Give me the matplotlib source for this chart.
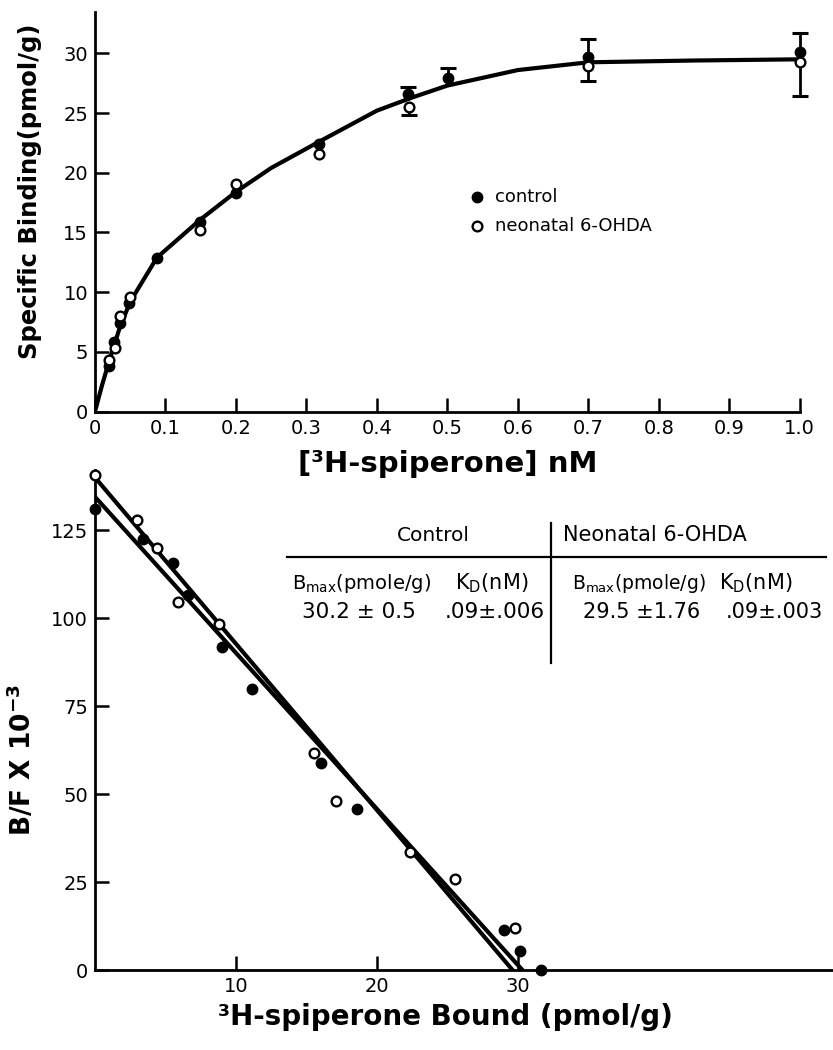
import numpy as np
import matplotlib
matplotlib.use("Agg")
import matplotlib.pyplot as plt

# ---- top panel: saturation binding ----
conc_ctrl = [0.02, 0.027, 0.035, 0.049, 0.088, 0.149, 0.2, 0.318, 0.444, 0.501, 0.7, 1.0]
bind_ctrl = [3.8, 5.8, 7.4, 9.1, 12.9, 15.9, 18.3, 22.4, 26.6, 27.9, 29.7, 30.1]
conc_ohda = [0.02, 0.029, 0.036, 0.05, 0.149, 0.2, 0.318, 0.446, 0.7, 1.0]
bind_ohda = [4.3, 5.3, 8.0, 9.6, 15.2, 19.1, 21.6, 25.5, 28.9, 29.3]

# error bars (control drawn upward, 6-OHDA drawn downward)
err_x_ctrl = [0.444, 0.501, 0.7, 1.0]
err_y_ctrl = [26.6, 27.9, 29.7, 30.1]
err_up_ctrl = [0.6, 0.9, 1.5, 1.6]
err_x_ohda = [0.446, 0.7, 1.0]
err_y_ohda = [25.5, 28.9, 29.3]
err_dn_ohda = [0.7, 1.2, 2.9]

# fitted curve
curve_x = [0, 0.01, 0.02, 0.035, 0.05, 0.088, 0.15, 0.2, 0.25, 0.318, 0.4, 0.45,
           0.5, 0.6, 0.7, 0.85, 1.0]
curve_y = [0, 2.2, 4.2, 7.0, 9.2, 12.9, 16.1, 18.4, 20.4, 22.6, 25.2, 26.3,
           27.3, 28.6, 29.25, 29.4, 29.5]

# ---- bottom panel: Scatchard plot ----
bound_ctrl = [0, 3.4, 5.5, 6.6, 9.0, 11.1, 16.0, 18.6, 29.0, 30.1, 31.6]
bf_ctrl = [131, 122.6, 115.8, 106.5, 91.7, 80.0, 58.9, 45.8, 11.4, 5.5, 0]
bound_ohda = [0, 3.0, 4.4, 5.9, 8.8, 15.5, 17.1, 22.3, 25.5, 29.8]
bf_ohda = [140.6, 128.0, 120.0, 104.6, 98.5, 61.7, 48.1, 33.6, 26.0, 12.1]

fit_ctrl_x = [0, 30.3]
fit_ctrl_y = [134.5, 0]
fit_ohda_x = [0, 29.6]
fit_ohda_y = [140.0, 0]

table_head = ["Control", "Neonatal 6-OHDA"]
table_cols = [r"B$_{\mathrm{max}}$(pmole/g)", r"K$_{\mathrm{D}}$(nM)"]
table_ctrl = ["30.2 \u00b1 0.5", ".09\u00b1.006"]
table_ohda = ["29.5 \u00b11.76", ".09\u00b1.003"]

plt.rcParams["font.family"] = "DejaVu Sans"

fig = plt.figure(figsize=(8.33, 10.5), dpi=100)
ax1 = fig.add_axes([0.114, 0.608, 0.846, 0.381])
ax2 = fig.add_axes([0.114, 0.076, 0.886, 0.476])
ax2.patch.set_visible(False)
ax1.set_zorder(2)

filled = dict(marker="o", linestyle="none", color="black", markersize=7.5, zorder=4)
hollow = dict(marker="o", linestyle="none", markerfacecolor="white",
              markeredgecolor="black", markeredgewidth=1.7, markersize=7, zorder=5)

for ax in (ax1, ax2):
    for side in ("top", "right"):
        ax.spines[side].set_visible(False)
    for side in ("left", "bottom"):
        ax.spines[side].set_linewidth(2)
    ax.tick_params(direction="in", length=10, width=1.8, labelsize=14, pad=5)

# top
ax1.plot(curve_x, curve_y, color="black", lw=3, zorder=3)
ax1.vlines(err_x_ctrl, err_y_ctrl, np.add(err_y_ctrl, err_up_ctrl), color="black",
           lw=2, zorder=2, clip_on=False)
ax1.plot(err_x_ctrl, np.add(err_y_ctrl, err_up_ctrl), linestyle="none", marker="_",
         markersize=12, mew=2.2, color="black", clip_on=False)
ax1.vlines(err_x_ohda, np.subtract(err_y_ohda, err_dn_ohda), err_y_ohda, color="black",
           lw=2, zorder=2, clip_on=False)
ax1.plot(err_x_ohda, np.subtract(err_y_ohda, err_dn_ohda), linestyle="none", marker="_",
         markersize=12, mew=2.2, color="black", clip_on=False)
ax1.plot(conc_ctrl, bind_ctrl, clip_on=False, **filled)
ax1.plot(conc_ohda, bind_ohda, clip_on=False, **hollow)
ax1.set_xlim(0, 1.0)
ax1.set_ylim(0, 33.5)
ax1.set_xticks(np.arange(0, 1.01, 0.1))
ax1.set_xticklabels(["0"] + ["%.1f" % v for v in np.arange(0.1, 1.01, 0.1)])
ax1.set_yticks(range(0, 31, 5))
ax1.set_ylabel("Specific Binding(pmol/g)", fontsize=17.5, fontweight="bold")
ax1.yaxis.set_label_coords(-0.075, 0.55)
ax1.set_xlabel("[\u00b3H-spiperone] nM", fontsize=21, fontweight="bold", labelpad=9)

ax1.plot([0.542], [0.5375], transform=ax1.transAxes, **filled)
ax1.plot([0.542], [0.465], transform=ax1.transAxes, **hollow)
ax1.text(0.568, 0.5375, "control", transform=ax1.transAxes, fontsize=13, va="center")
ax1.text(0.568, 0.465, "neonatal 6-OHDA", transform=ax1.transAxes, fontsize=13, va="center")

# bottom
ax2.plot(fit_ctrl_x, fit_ctrl_y, color="black", lw=3, zorder=3)
ax2.plot(fit_ohda_x, fit_ohda_y, color="black", lw=3, zorder=3)
ax2.plot(bound_ctrl, bf_ctrl, clip_on=False, **filled)
ax2.plot(bound_ohda, bf_ohda, clip_on=False, **hollow)
ax2.set_xlim(0, 52.3)
ax2.set_ylim(0, 142)
ax2.set_xticks([10, 20, 30])
ax2.set_yticks(range(0, 126, 25))
ax2.set_ylabel(r"B/F X 10$^{\mathbf{-3}}$", fontsize=19, fontweight="bold")
ax2.yaxis.set_label_coords(-0.078, 0.42)
ax2.set_xlabel("\u00b3H-spiperone Bound (pmol/g)", fontsize=20, fontweight="bold", labelpad=8)
ax2.xaxis.set_label_coords(0.475, -0.065)

tr = ax2.transAxes
ax2.text(0.458, 0.87, table_head[0], transform=tr, fontsize=14.5, ha="center", va="center")
ax2.text(0.634, 0.87, table_head[1], transform=tr, fontsize=15, ha="left", va="center")
ax2.plot([0.26, 0.99], [0.826, 0.826], transform=tr, color="black", lw=1.6, clip_on=False)
ax2.plot([0.618, 0.618], [0.615, 0.894], transform=tr, color="black", lw=1.6, clip_on=False)
ax2.text(0.267, 0.774, table_cols[0], transform=tr, fontsize=14, va="center")
ax2.text(0.488, 0.774, table_cols[1], transform=tr, fontsize=15, va="center")
ax2.text(0.646, 0.774, table_cols[0], transform=tr, fontsize=13.5, va="center")
ax2.text(0.846, 0.774, table_cols[1], transform=tr, fontsize=15, va="center")
ax2.text(0.280, 0.716, table_ctrl[0], transform=tr, fontsize=15.5, va="center")
ax2.text(0.474, 0.716, table_ctrl[1], transform=tr, fontsize=15.5, va="center")
ax2.text(0.661, 0.716, table_ohda[0], transform=tr, fontsize=15, va="center")
ax2.text(0.855, 0.716, table_ohda[1], transform=tr, fontsize=15, va="center")

fig.savefig("out.png", dpi=100)
